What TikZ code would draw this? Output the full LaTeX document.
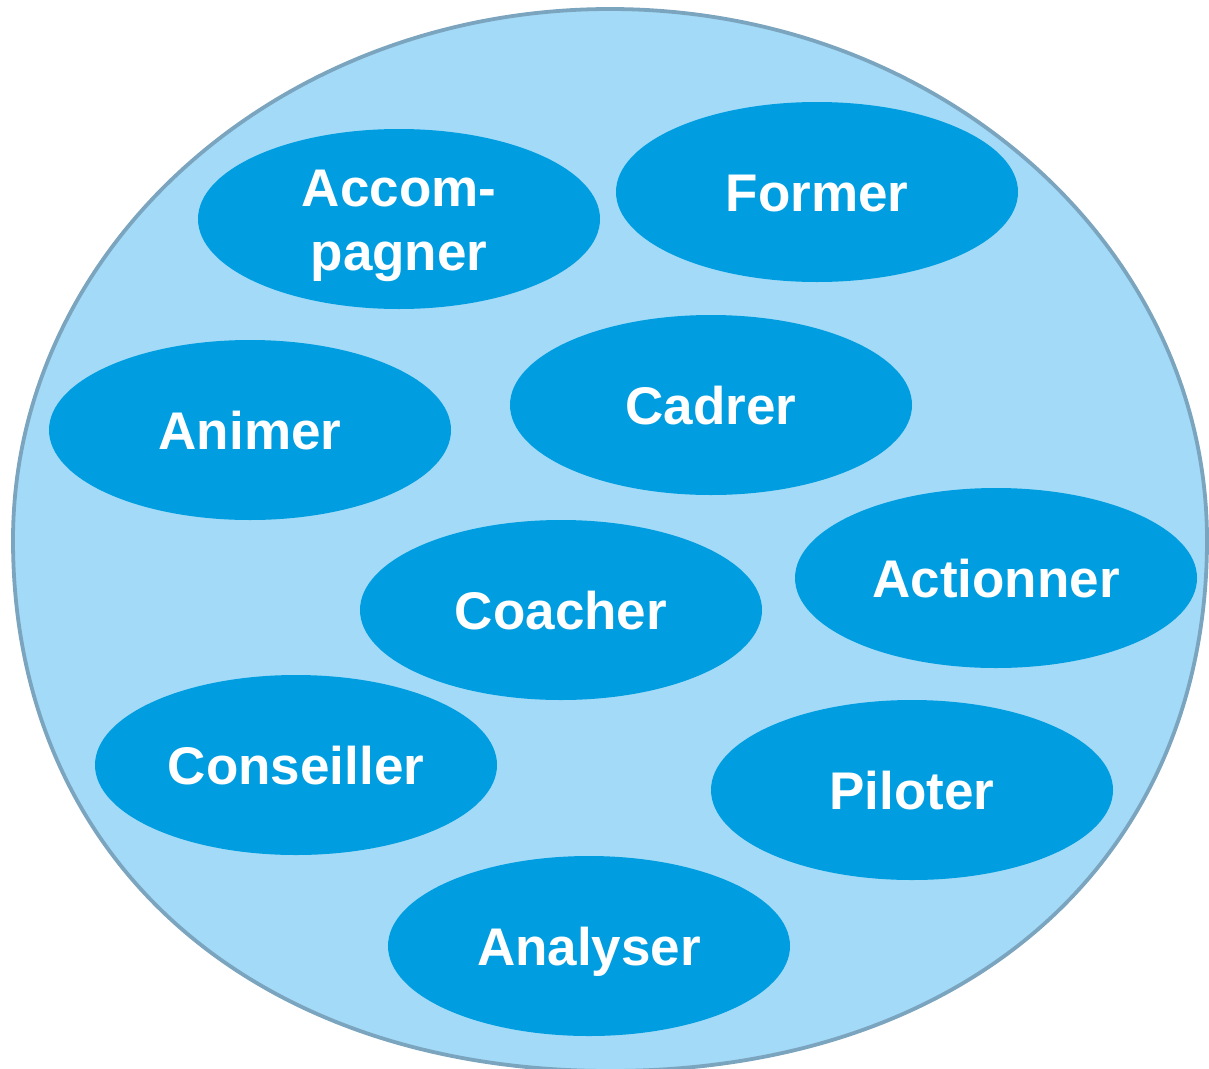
\documentclass[tikz,border=0pt]{standalone}
\usepackage{fontspec}
\setmainfont{Liberation Sans}
\usetikzlibrary{shapes.geometric}
\definecolor{outerfill}{HTML}{A3DAF7}
\definecolor{outerline}{HTML}{7BA5BF}
\definecolor{verbfill}{HTML}{009EE0}
\begin{document}
\begin{tikzpicture}[x=1pt, y=-1pt,
  verb/.style={ellipse, fill=verbfill, text=white, inner sep=0pt,
    minimum width=402pt, minimum height=180pt, align=center,
    font=\bfseries\fontsize{53}{64}\selectfont, text height=38pt, text depth=0pt}]
\useasboundingbox (0,0) rectangle (1209,1068);
% outer shape, a bit fuller at the bottom
\draw[fill=outerfill, draw=outerline, line width=3.8pt] (13,540)
  .. controls (13,247) and (280,9) .. (610,9)
  .. controls (940,9) and (1207,247) .. (1207,540)
  .. controls (1207,859) and (968,1071) .. (610,1071)
  .. controls (252,1071) and (13,859) .. (13,540) -- cycle;
% the verbs
\node[verb, text height=102pt] (accompagner) at (399,219) {Accom-\\pagner};
\node[verb] (former) at (817,192) {Former};
\node[verb] (animer) at (250,430) {Animer};
\node[verb] (cadrer) at (711,405) {Cadrer};
\node[verb] (coacher) at (561,610) {Coacher};
\node[verb] (actionner) at (996,578) {Actionner};
\node[verb] (conseiller) at (296,765) {Conseiller};
\node[verb] (piloter) at (912,790) {Piloter};
\node[verb] (analyser) at (589,946) {Analyser};
\end{tikzpicture}
\end{document}
